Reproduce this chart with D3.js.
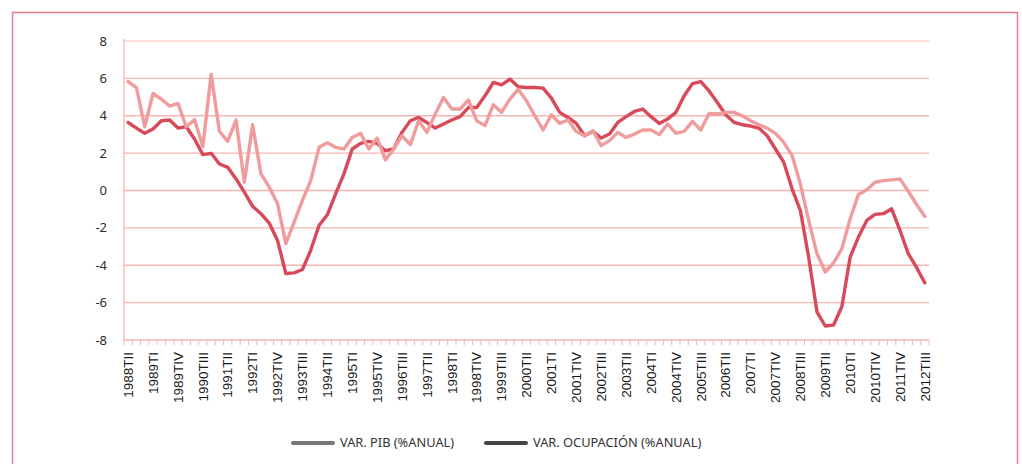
<!DOCTYPE html>
<html lang="es">
<head>
<meta charset="UTF-8">
<title>PIB y ocupación</title>
<script src="https://d3js.org/d3.v7.min.js"></script>
<style>
  body { margin: 0; background: #fff; }
</style>
</head>
<body>
<svg width="1022" height="464"></svg>
<script>
// etiquetas del eje (una cada 3 trimestres)
var tickLabels = ["1988TII", "1989TI", "1989TIV", "1990TIII", "1991TII", "1992TI", "1992TIV",
  "1993TIII", "1994TII", "1995TI", "1995TIV", "1996TIII", "1997TII", "1998TI", "1998TIV",
  "1999TIII", "2000TII", "2001TI", "2001TIV", "2002TIII", "2003TII", "2004TI", "2004TIV",
  "2005TIII", "2006TII", "2007TI", "2007TIV", "2008TIII", "2009TII", "2010TI", "2010TIV",
  "2011TIV", "2012TIII"];

// VAR. PIB (%ANUAL)
var pib = [5.83, 5.51, 3.41, 5.19, 4.89, 4.52, 4.66, 3.41, 3.79, 2.35,
  6.22, 3.16, 2.63, 3.77, 0.44, 3.52, 0.89, 0.18, -0.7, -2.84,
  -1.69, -0.53, 0.53, 2.31, 2.55, 2.31, 2.22, 2.84, 3.06, 2.22,
  2.81, 1.64, 2.22, 2.93, 2.45, 3.73, 3.11, 4.09, 4.98, 4.36,
  4.36, 4.84, 3.73, 3.47, 4.59, 4.18, 4.89, 5.42, 4.8, 4.0,
  3.24, 4.05, 3.59, 3.77, 3.16, 2.93, 3.2, 2.4, 2.67, 3.11,
  2.84, 3.02, 3.24, 3.24, 2.99, 3.56, 3.06, 3.16, 3.7, 3.24,
  4.12, 4.09, 4.18, 4.18, 4.0, 3.73, 3.52, 3.34, 3.06, 2.58,
  1.87, 0.36, -1.6, -3.38, -4.36, -3.88, -3.11, -1.51, -0.21, 0.04,
  0.44, 0.53, 0.57, 0.62, -0.04, -0.75, -1.39];

// VAR. OCUPACIÓN (%ANUAL)
var ocupacion = [3.64, 3.34, 3.06, 3.29, 3.73, 3.77, 3.34, 3.41, 2.76, 1.92,
  1.99, 1.42, 1.24, 0.62, -0.09, -0.85, -1.24, -1.74, -2.67, -4.44,
  -4.41, -4.23, -3.2, -1.87, -1.3, -0.18, 0.89, 2.22, 2.52, 2.63,
  2.52, 2.13, 2.22, 3.11, 3.73, 3.91, 3.64, 3.34, 3.56, 3.77,
  3.95, 4.44, 4.44, 5.07, 5.78, 5.65, 5.96, 5.55, 5.51, 5.51,
  5.48, 4.94, 4.18, 3.91, 3.59, 2.93, 3.16, 2.81, 3.02, 3.64,
  3.95, 4.23, 4.36, 3.95, 3.59, 3.82, 4.18, 5.07, 5.72, 5.83,
  5.33, 4.71, 4.05, 3.65, 3.52, 3.45, 3.34, 2.93, 2.22, 1.51,
  0.09, -1.07, -3.56, -6.49, -7.25, -7.2, -6.22, -3.56, -2.49, -1.6,
  -1.28, -1.24, -0.98, -2.13, -3.38, -4.12, -4.94];

var yTicks = [8, 6, 4, 2, 0, -2, -4, -6, -8];

var series = [
  { name: "VAR. PIB (%ANUAL)", values: pib, color: "#f09c9c", legend: "#777777" },
  { name: "VAR. OCUPACIÓN (%ANUAL)", values: ocupacion, color: "#d84a5a", legend: "#444444" }
];

var svg = d3.select("svg");

// marco exterior
svg.append("rect")
  .attr("x", 12.5).attr("y", 12.5)
  .attr("width", 1005).attr("height", 470)
  .attr("fill", "none")
  .attr("stroke", "#ee7b8c")
  .attr("stroke-width", 1.5);

var plotLeft = 124, plotRight = 929, plotTop = 41, plotBottom = 340;

var x = d3.scaleBand()
  .domain(d3.range(pib.length))
  .range([plotLeft, plotRight])
  .paddingInner(0).paddingOuter(0);

var y = d3.scaleLinear()
  .domain([-8, 8])
  .range([plotBottom, plotTop]);

// rejilla horizontal
svg.append("g").selectAll("line")
  .data(yTicks)
  .join("line")
  .attr("x1", plotLeft).attr("x2", plotRight)
  .attr("y1", d => y(d)).attr("y2", d => y(d))
  .attr("stroke", d => d === 8 ? "#fbd3d3" : "#f7b5b5")
  .attr("stroke-width", 1.3);

// eje vertical
svg.append("line")
  .attr("x1", plotLeft).attr("x2", plotLeft)
  .attr("y1", plotTop - 2).attr("y2", plotBottom)
  .attr("stroke", "#f7b5b5").attr("stroke-width", 1.3);

// etiquetas eje y
svg.append("g").selectAll("text")
  .data(yTicks)
  .join("text")
  .attr("x", 107)
  .attr("y", d => y(d))
  .attr("dy", "0.35em")
  .attr("text-anchor", "end")
  .attr("font-family", "'Noto Sans', sans-serif")
  .attr("font-size", 13)
  .attr("fill", "#2a2a2a")
  .text(d => d);

// marcas del eje x
var tickPos = d3.range(pib.length + 1).map(i => plotLeft + i * x.step());
svg.append("g").selectAll("line")
  .data(tickPos)
  .join("line")
  .attr("x1", d => d).attr("x2", d => d)
  .attr("y1", plotBottom).attr("y2", plotBottom + 5)
  .attr("stroke", "#f7b5b5").attr("stroke-width", 1);

// etiquetas eje x
svg.append("g").selectAll("text")
  .data(tickLabels)
  .join("text")
  .attr("transform", (d, i) => "translate(" + (x(i * 3) + x.bandwidth() / 2) + "," + 352 + ") rotate(-90)")
  .attr("dy", "0.35em")
  .attr("text-anchor", "end")
  .attr("font-family", "'Liberation Sans', Arial, sans-serif")
  .attr("font-size", 13.5)
  .attr("fill", "#1a1a1a")
  .text(d => d);

// líneas
var line = d3.line()
  .x((d, i) => x(i) + x.bandwidth() / 2)
  .y(d => y(d));

svg.append("g").selectAll("path")
  .data(series.slice().reverse())
  .join("path")
  .attr("d", d => line(d.values))
  .attr("fill", "none")
  .attr("stroke", d => d.color)
  .attr("stroke-width", 3.4)
  .attr("stroke-linejoin", "round")
  .attr("stroke-linecap", "round");

// leyenda
var legendX = [293, 486];
var leg = svg.append("g").selectAll("g")
  .data(series)
  .join("g")
  .attr("transform", (d, i) => "translate(" + legendX[i] + ",443)");

leg.append("line")
  .attr("x1", 0).attr("x2", 40)
  .attr("y1", 0).attr("y2", 0)
  .attr("stroke", d => d.legend)
  .attr("stroke-width", 4)
  .attr("stroke-linecap", "round");

leg.append("text")
  .attr("x", 47)
  .attr("dy", "0.35em")
  .attr("font-family", "'Noto Sans', sans-serif")
  .attr("font-size", 12.8)
  .attr("fill", "#333")
  .text(d => d.name);
</script>
</body>
</html>
